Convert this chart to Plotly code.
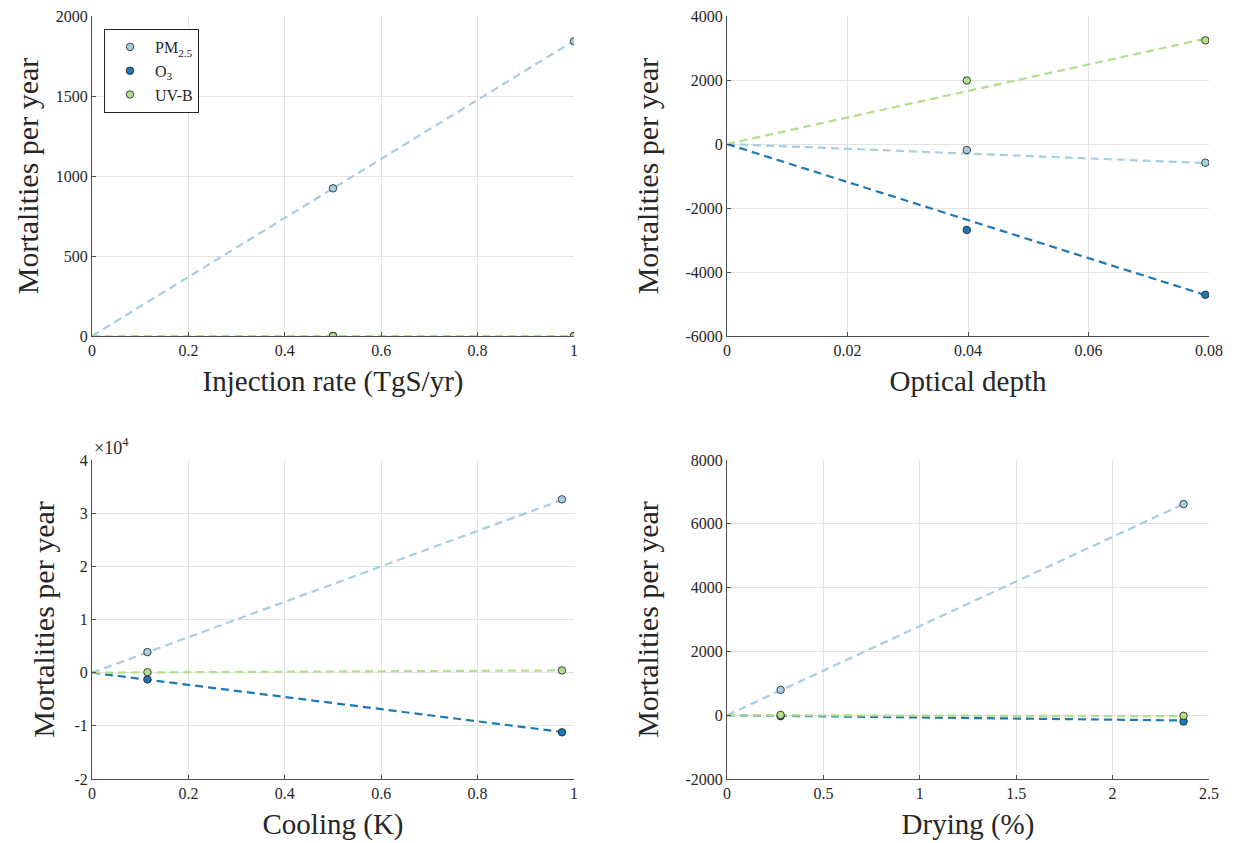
import plotly.graph_objects as go

# ---------------- data ----------------
series_names = ["PM<sub>2.5</sub>", "O<sub>3</sub>", "UV-B"]
series_colors = ["#a6cee3", "#1f78b4", "#b2df8a"]

# Panel 1: Injection rate (TgS/yr)
inj_x = [0.5, 1.0]
inj_pm = [923, 1842]
inj_o3 = [0, 0]
inj_uvb = [0, 0]
inj_fit = [1845, 0, 0]          # trend value at last x (trend starts at 0,0)

# Panel 2: Optical depth
od_x = [0.0398, 0.0794]
od_pm = [-188, -585]
od_o3 = [-2686, -4713]
od_uvb = [1985, 3239]
od_fit = [-595, -4720, 3290]

# Panel 3: Cooling (K)
cool_x = [0.115, 0.975]
cool_pm = [3860, 32600]
cool_o3 = [-1270, -11220]
cool_uvb = [100, 420]
cool_fit = [32500, -11150, 420]

# Panel 4: Drying (%)
dry_x = [0.278, 2.368]
dry_pm = [793, 6618]
dry_o3 = [-31, -198]
dry_uvb = [10, -21]
dry_fit = [6620, -165, -30]

x_titles = ["Injection rate (TgS/yr)", "Optical depth", "Cooling (K)", "Drying (%)"]
y_title = "Mortalities per year"

inj_xticks = [0, 0.2, 0.4, 0.6, 0.8, 1]
inj_xtext = ["0", "0.2", "0.4", "0.6", "0.8", "1"]
inj_yticks = [0, 500, 1000, 1500, 2000]
inj_ytext = ["0", "500", "1000", "1500", "2000"]

od_xticks = [0, 0.02, 0.04, 0.06, 0.08]
od_xtext = ["0", "0.02", "0.04", "0.06", "0.08"]
od_yticks = [-6000, -4000, -2000, 0, 2000, 4000]
od_ytext = ["-6000", "-4000", "-2000", "0", "2000", "4000"]

cool_xticks = [0, 0.2, 0.4, 0.6, 0.8, 1]
cool_xtext = ["0", "0.2", "0.4", "0.6", "0.8", "1"]
cool_yticks = [-20000, -10000, 0, 10000, 20000, 30000, 40000]
cool_ytext = ["-2", "-1", "0", "1", "2", "3", "4"]

dry_xticks = [0, 0.5, 1, 1.5, 2, 2.5]
dry_xtext = ["0", "0.5", "1", "1.5", "2", "2.5"]
dry_yticks = [-2000, 0, 2000, 4000, 6000, 8000]
dry_ytext = ["-2000", "0", "2000", "4000", "6000", "8000"]

panels = [
    dict(x=inj_x, ys=[inj_pm, inj_o3, inj_uvb], fit=inj_fit,
         xr=[0, 1], yr=[0, 2000], xt=(inj_xticks, inj_xtext), yt=(inj_yticks, inj_ytext)),
    dict(x=od_x, ys=[od_pm, od_o3, od_uvb], fit=od_fit,
         xr=[0, 0.08], yr=[-6000, 4000], xt=(od_xticks, od_xtext), yt=(od_yticks, od_ytext)),
    dict(x=cool_x, ys=[cool_pm, cool_o3, cool_uvb], fit=cool_fit,
         xr=[0, 1], yr=[-20000, 40000], xt=(cool_xticks, cool_xtext), yt=(cool_yticks, cool_ytext)),
    dict(x=dry_x, ys=[dry_pm, dry_o3, dry_uvb], fit=dry_fit,
         xr=[0, 2.5], yr=[-2000, 8000], xt=(dry_xticks, dry_xtext), yt=(dry_yticks, dry_ytext)),
]

# ---------------- layout geometry ----------------
W, H = 1235, 843
px_boxes = [  # left, right, top, bottom in screen pixels
    (92, 574, 16, 336),
    (727, 1209, 16, 336),
    (92, 574, 460, 779),
    (727, 1209, 460, 779),
]
y_standoffs = [8, 17, 10, 17]
x_standoffs = [12, 12, 12, 12]

FONT = "Liberation Serif, Times New Roman, serif"
TXT = "#262626"
AXC = "#4d4d4d"
GRID = "#e3e3e3"

fig = go.Figure()

# trend lines first
for i, p in enumerate(panels):
    xa = "x" if i == 0 else f"x{i+1}"
    ya = "y" if i == 0 else f"y{i+1}"
    for k in range(3):
        fig.add_trace(go.Scatter(
            x=[0, p["x"][-1]], y=[0, p["fit"][k]], xaxis=xa, yaxis=ya,
            mode="lines", line=dict(color=series_colors[k], width=2.2, dash="8px,5px"),
            showlegend=False, hoverinfo="skip"))

# markers
for i, p in enumerate(panels):
    xa = "x" if i == 0 else f"x{i+1}"
    ya = "y" if i == 0 else f"y{i+1}"
    for k in range(3):
        fig.add_trace(go.Scatter(
            x=p["x"], y=p["ys"][k], xaxis=xa, yaxis=ya, mode="markers",
            name=series_names[k],
            marker=dict(color=series_colors[k], size=7.5, symbol="circle",
                        line=dict(color="#1a1a1a", width=0.8)),
            showlegend=(i == 0), legendgroup=series_names[k]))

layout = dict(
    width=W, height=H,
    margin=dict(l=0, r=0, t=0, b=0, autoexpand=False),
    paper_bgcolor="white", plot_bgcolor="white",
    font=dict(family=FONT, color=TXT, size=16),
    showlegend=True,
    legend=dict(x=104 / W, y=1 - 29 / H, xanchor="left", yanchor="top",
                bgcolor="white", bordercolor="#222222", borderwidth=1,
                font=dict(family=FONT, size=16, color=TXT),
                itemwidth=40, tracegroupgap=0),
)

for i, p in enumerate(panels):
    l, r, t, b = px_boxes[i]
    xk = "xaxis" if i == 0 else f"xaxis{i+1}"
    yk = "yaxis" if i == 0 else f"yaxis{i+1}"
    xa = "x" if i == 0 else f"x{i+1}"
    ya = "y" if i == 0 else f"y{i+1}"
    layout[xk] = dict(
        domain=[l / W, r / W], anchor=ya, range=p["xr"], automargin=False,
        tickmode="array", tickvals=p["xt"][0], ticktext=p["xt"][1],
        ticks="inside", ticklen=4, tickcolor=AXC, tickwidth=1,
        showline=True, linecolor=AXC, linewidth=1, mirror=False,
        showgrid=True, gridcolor=GRID, gridwidth=1, zeroline=False,
        ticklabeloverflow="allow",
        tickfont=dict(family=FONT, size=16, color=TXT),
        title=dict(text=x_titles[i], font=dict(family=FONT, size=29, color=TXT),
                   standoff=x_standoffs[i]),
    )
    layout[yk] = dict(
        domain=[1 - b / H, 1 - t / H], anchor=xa, range=p["yr"], automargin=False,
        tickmode="array", tickvals=p["yt"][0], ticktext=p["yt"][1],
        ticks="inside", ticklen=4, tickcolor=AXC, tickwidth=1,
        showline=True, linecolor=AXC, linewidth=1, mirror=False,
        showgrid=True, gridcolor=GRID, gridwidth=1, zeroline=False,
        ticklabeloverflow="allow",
        tickfont=dict(family=FONT, size=16, color=TXT),
        title=dict(text=y_title, font=dict(family=FONT, size=30, color=TXT),
                   standoff=y_standoffs[i]),
    )

fig.update_layout(**layout)

# exponent label for the cooling panel
fig.add_annotation(x=92 / W, y=1 - 447 / H, xref="paper", yref="paper",
                   text="×10<sup>4</sup>", showarrow=False, xanchor="left", yanchor="middle",
                   font=dict(family=FONT, size=18, color=TXT))

fig.write_html("out.html", config={"displayModeBar": False},
               post_script="document.body.style.margin='0';document.body.style.overflow='hidden';")
